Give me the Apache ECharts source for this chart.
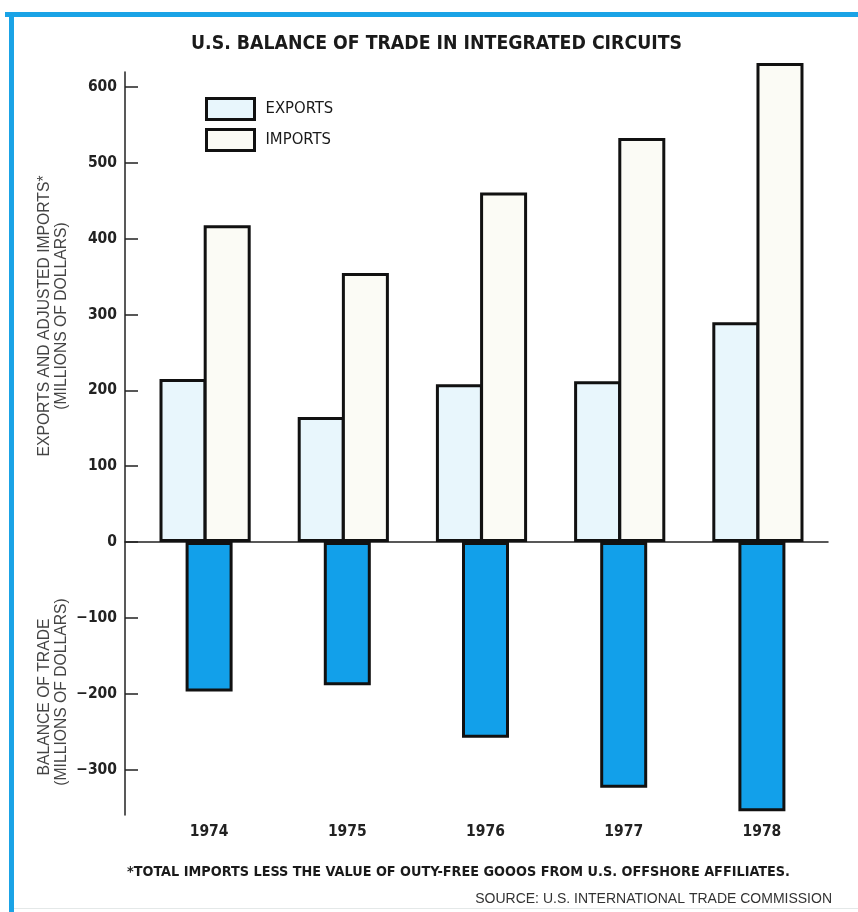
<!DOCTYPE html>
<html>
<head>
<meta charset="utf-8">
<script src="https://cdn.jsdelivr.net/npm/echarts@6/dist/echarts.min.js"></script>
<style>
html,body{margin:0;padding:0;background:#fff;}
#chart{width:858px;height:912px;}
</style>
</head>
<body>
<div id="chart"></div>
<script>
const categories = ['1974', '1975', '1976', '1977', '1978'];
const exportsData = [215, 165, 208, 212, 290];
const importsData = [418, 355, 461, 533, 632];
const balanceData = [-197, -189, -258, -324, -355];
const yTickValues = [-300, -200, -100, 0, 100, 200, 300, 400, 500, 600];

const FONT = "'Liberation Sans Narrow', 'DejaVu Sans Condensed', 'Liberation Sans', sans-serif";
const WIDE = "'Liberation Sans', 'DejaVu Sans', sans-serif";
const Y_MIN = -360, Y_MAX = 620;

const chart = echarts.init(document.getElementById('chart'), null, {renderer: 'canvas'});

const hiddenY = (gi) => ({
  type: 'value', gridIndex: gi, min: Y_MIN, max: Y_MAX, show: false
});

const option = {
  backgroundColor: '#ffffff',
  animation: false,
  title: {
    text: 'U.S. BALANCE OF TRADE IN INTEGRATED CIRCUITS',
    left: 191, top: 34, padding: 0,
    textStyle: {fontFamily: FONT, fontWeight: 'bold', fontSize: 19.3, color: '#1a1a1a'}
  },
  legend: {
    orient: 'vertical', left: 205, top: 97, padding: 0,
    itemWidth: 48, itemHeight: 21, itemGap: 7,
    icon: 'rect',
    data: [
      {name: 'EXPORTS', itemStyle: {color: '#e8f6fc', borderColor: '#111', borderWidth: 3}},
      {name: 'IMPORTS', itemStyle: {color: '#fbfbf5', borderColor: '#111', borderWidth: 3}}
    ],
    textStyle: {fontFamily: FONT, fontSize: 16.5, color: '#1a1a1a', padding: [0, 0, 0, 6]}
  },
  grid: [
    {left: 125, right: 30, top: 72, bottom: 97},
    {left: 136, right: 31, top: 72, bottom: 97},
    {left: 140, right: 27, top: 72, bottom: 97}
  ],
  xAxis: [
    {
      type: 'value', gridIndex: 0, min: 0, max: 1,
      axisLine: {show: true, onZero: true, lineStyle: {color: '#222', width: 1.5}},
      axisTick: {show: false}, axisLabel: {show: false}, splitLine: {show: false}
    },
    {type: 'category', gridIndex: 1, data: categories, show: false},
    {
      type: 'category', gridIndex: 2, data: categories, position: 'bottom',
      axisLine: {show: false, onZero: false}, axisTick: {show: false}, splitLine: {show: false},
      axisLabel: {margin: 9, fontFamily: FONT, fontWeight: 'bold', fontSize: 15.5, color: '#222'}
    }
  ],
  yAxis: [
    {
      type: 'value', gridIndex: 0, min: Y_MIN, max: Y_MAX,
      axisLine: {show: true, lineStyle: {color: '#222', width: 1.5}},
      axisTick: {show: true, inside: true, length: 13, customValues: yTickValues, lineStyle: {color: '#222', width: 1.5}},
      axisLabel: {
        customValues: yTickValues, margin: 8,
        fontFamily: FONT, fontWeight: 'bold', fontSize: 15.5, color: '#222',
        formatter: v => (v < 0 ? '\u2212' + Math.abs(v) : String(v))
      },
      splitLine: {show: false}
    },
    hiddenY(1),
    hiddenY(2)
  ],
  series: [
    {
      name: 'EXPORTS', type: 'bar', xAxisIndex: 1, yAxisIndex: 1,
      data: exportsData, barWidth: 47, barGap: '-6%', clip: false,
      itemStyle: {color: '#e8f6fc', borderColor: '#111', borderWidth: 3}
    },
    {
      name: 'IMPORTS', type: 'bar', xAxisIndex: 1, yAxisIndex: 1,
      data: importsData, barWidth: 47, barGap: '-6%', clip: false,
      itemStyle: {color: '#fbfbf5', borderColor: '#111', borderWidth: 3}
    },
    {
      name: 'BALANCE', type: 'bar', xAxisIndex: 2, yAxisIndex: 2,
      data: balanceData, barWidth: 47, clip: false,
      itemStyle: {color: '#12a0ea', borderColor: '#111', borderWidth: 3}
    }
  ],
  graphic: [
    {type: 'rect', shape: {x: 9, y: 12, width: 5, height: 900}, style: {fill: '#1aa3e6'}, silent: true},
    {type: 'rect', shape: {x: 5, y: 12, width: 853, height: 5}, style: {fill: '#1aa3e6'}, silent: true},
    {type: 'rect', shape: {x: 14, y: 908, width: 844, height: 1}, style: {fill: '#e4e8e8'}, silent: true},
    {
      type: 'text', x: 45, y: 316, rotation: Math.PI / 2,
      style: {text: 'EXPORTS AND ADJUSTED IMPORTS*', fontFamily: WIDE, fontSize: 15.7, fill: '#444',
        textAlign: 'center', textVerticalAlign: 'middle'}
    },
    {
      type: 'text', x: 62, y: 316, rotation: Math.PI / 2,
      style: {text: '(MILLIONS OF DOLLARS)', fontFamily: WIDE, fontSize: 15.7, fill: '#444',
        textAlign: 'center', textVerticalAlign: 'middle'}
    },
    {
      type: 'text', x: 45, y: 697, rotation: Math.PI / 2,
      style: {text: 'BALANCE OF TRADE', fontFamily: WIDE, fontSize: 15.7, fill: '#444',
        textAlign: 'center', textVerticalAlign: 'middle'}
    },
    {
      type: 'text', x: 62, y: 692, rotation: Math.PI / 2,
      style: {text: '(MILLIONS OF DOLLARS)', fontFamily: WIDE, fontSize: 15.7, fill: '#444',
        textAlign: 'center', textVerticalAlign: 'middle'}
    },
    {
      type: 'text', x: 127, y: 872,
      style: {text: '*TOTAL IMPORTS LESS THE VALUE OF OUTY-FREE GOOOS FROM U.S. OFFSHORE AFFILIATES.',
        fontFamily: FONT, fontWeight: 'bold', fontSize: 14.3, fill: '#1a1a1a',
        textAlign: 'left', textVerticalAlign: 'middle'}
    },
    {
      type: 'text', x: 832, y: 899,
      style: {text: 'SOURCE: U.S. INTERNATIONAL TRADE COMMISSION',
        fontFamily: WIDE, fontSize: 14, fill: '#333',
        textAlign: 'right', textVerticalAlign: 'middle'}
    }
  ]
};
chart.setOption(option);
</script>
</body>
</html>
